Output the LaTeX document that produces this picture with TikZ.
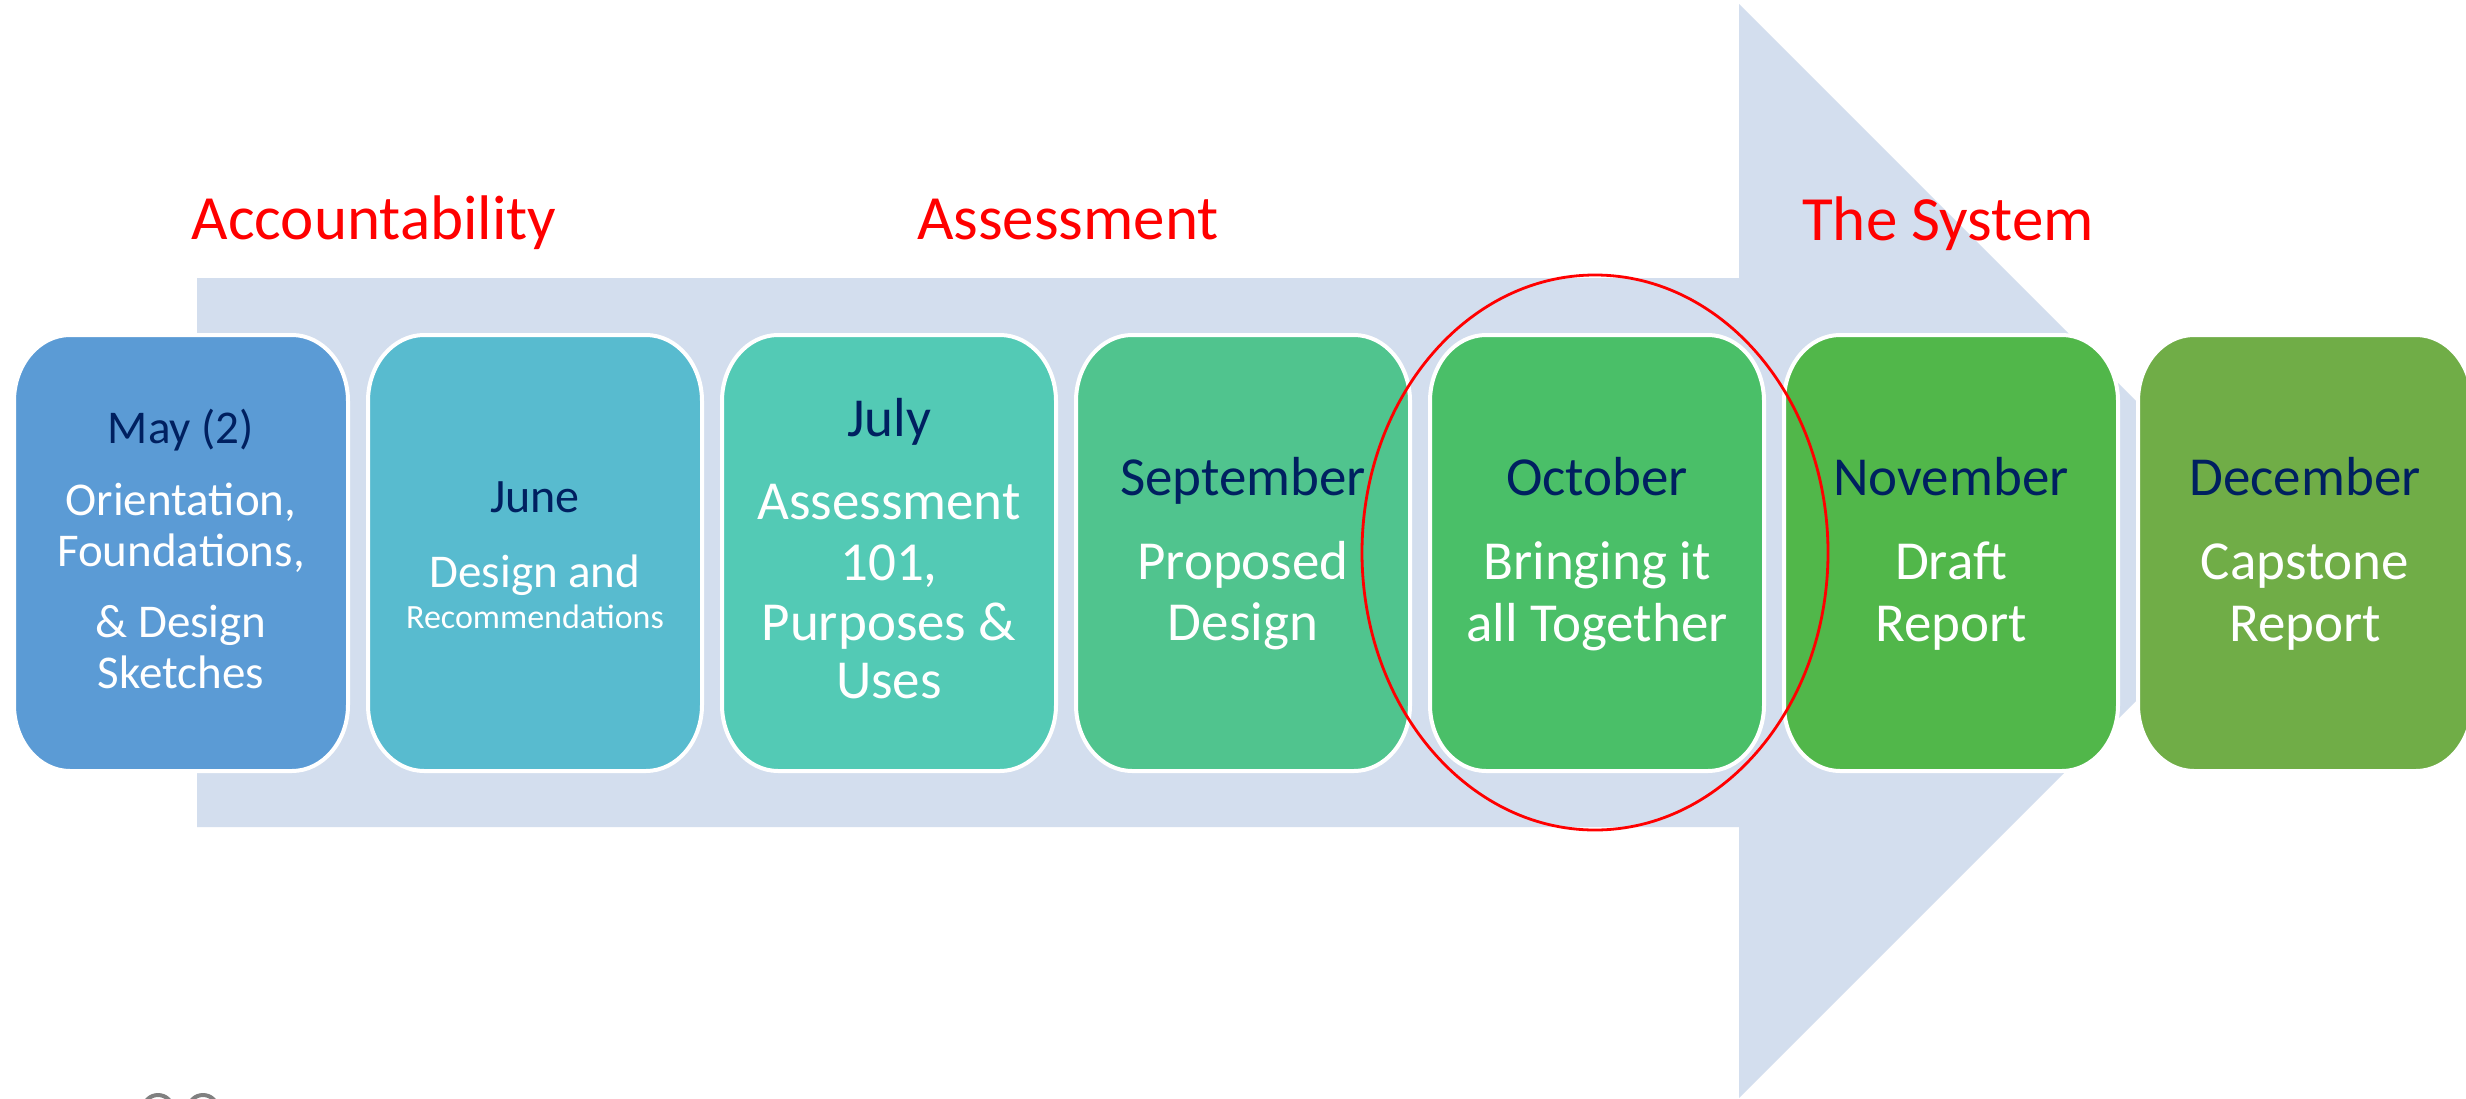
\documentclass[tikz,border=0pt]{standalone}
\usepackage{fontspec}
\setmainfont{Carlito}
\definecolor{arrowblue}{RGB}{211,222,238}
\definecolor{navytext}{RGB}{0,32,96}
\definecolor{cMay}{RGB}{91,155,213}
\definecolor{cJun}{RGB}{88,187,207}
\definecolor{cJul}{RGB}{83,202,181}
\definecolor{cSep}{RGB}{80,196,142}
\definecolor{cOct}{RGB}{74,191,104}
\definecolor{cNov}{RGB}{81,183,74}
\definecolor{cDec}{RGB}{112,173,71}
\newcommand\szSmall{\fontsize{34}{41}\selectfont}
\newcommand\szMid{\fontsize{47}{56}\selectfont}
\newcommand\szJune{\fontsize{48}{58}\selectfont}
\newcommand\szBig{\fontsize{55}{66}\selectfont}
\newcommand\szPhase{\fontsize{63}{76}\selectfont}
% rounded block with slightly taller-than-wide corners: {centre x}{fill colour}
\newcommand\stageshape[2]{%
  \filldraw[fill=#2, draw=white, line width=4pt]
    ({#1-167+56},335) -- ({#1+167-56},335)
    arc[start angle=-90, end angle=0, x radius=56, y radius=66]
    -- ({#1+167},{771-66})
    arc[start angle=0, end angle=90, x radius=56, y radius=66]
    -- ({#1-167+56},771)
    arc[start angle=90, end angle=180, x radius=56, y radius=66]
    -- ({#1-167},{335+66})
    arc[start angle=180, end angle=270, x radius=56, y radius=66]
    -- cycle;}
\tikzset{
  stagebox/.style={minimum width=334pt, minimum height=436pt, inner sep=0pt},
  monthtxt/.style={anchor=base, inner sep=0pt, text=navytext},
  bodytxt/.style={anchor=base, inner sep=0pt, text=white},
  phasetxt/.style={anchor=base, inner sep=0pt, text=red, font=\szPhase},
}
\begin{document}
\begin{tikzpicture}[x=1pt, y=-1pt]
\clip (0,0) rectangle (2466,1098);
\fill[white] (0,0) rectangle (2466,1098);

% background block arrow
\fill[arrowblue] (197,278) -- (1739,278) -- (1739,4) -- (2286,551)
  -- (1739,1098) -- (1739,827) -- (197,827) -- cycle;

% phase headings
\node[phasetxt] (ph1) at (374,239) {Accountability};
\node[phasetxt] (ph2) at (1068,239) {Assessment};
\node[phasetxt] (ph3) at (1948,240) {The System};

% stage blocks
\stageshape{181}{cMay}
\stageshape{535}{cJun}
\stageshape{889}{cJul}
\stageshape{1243}{cSep}
\stageshape{1597}{cOct}
\stageshape{1951}{cNov}
\stageshape{2305}{cDec}
\node[stagebox] (b1) at (181,553) {};
\node[stagebox] (b2) at (535,553) {};
\node[stagebox] (b3) at (889,553) {};
\node[stagebox] (b4) at (1243,553) {};
\node[stagebox] (b5) at (1597,553) {};
\node[stagebox] (b6) at (1951,553) {};
\node[stagebox] (b7) at (2305,553) {};

% May
\node[monthtxt, font=\szMid] (m1) at (181,443) {May (2)};
\node[bodytxt, font=\szMid] (t1a) at (181,515) {Orientation,};
\node[bodytxt, font=\szMid] (t1b) at (181,566) {Foundations,};
\node[bodytxt, font=\szMid] (t1c) at (181,637) {\& Design};
\node[bodytxt, font=\szMid] (t1d) at (181,688) {Sketches};

% June
\node[monthtxt, font=\szJune] (m2) at (535,512) {June};
\node[bodytxt, font=\szMid] (t2a) at (535,587) {Design and};
\node[bodytxt, font=\szSmall] (t2b) at (535,628) {Recommendations};

% July
\node[monthtxt, font=\szBig] (m3) at (889,436) {July};
\node[bodytxt, font=\szBig] (t3a) at (889,519) {Assessment};
\node[bodytxt, font=\szBig] (t3b) at (889,580) {101,};
\node[bodytxt, font=\szBig] (t3c) at (889,640) {Purposes \&};
\node[bodytxt, font=\szBig] (t3d) at (889,698) {Uses};

% September
\node[monthtxt, font=\szBig] (m4) at (1243,495) {September};
\node[bodytxt, font=\szBig] (t4a) at (1243,579) {Proposed};
\node[bodytxt, font=\szBig] (t4b) at (1243,640) {Design};

% October
\node[monthtxt, font=\szBig] (m5) at (1597,495) {October};
\node[bodytxt, font=\szBig] (t5a) at (1597,579) {Bringing it};
\node[bodytxt, font=\szBig] (t5b) at (1597,641) {all Together};

% November
\node[monthtxt, font=\szBig] (m6) at (1951,495) {November};
\node[bodytxt, font=\szBig] (t6a) at (1951,579) {Draft};
\node[bodytxt, font=\szBig] (t6b) at (1951,641) {Report};

% December
\node[monthtxt, font=\szBig] (m7) at (2305,495) {December};
\node[bodytxt, font=\szBig] (t7a) at (2305,579) {Capstone};
\node[bodytxt, font=\szBig] (t7b) at (2305,641) {Report};

% highlight ring around October
\draw[red, line width=2.8pt] (1595,552.5) ellipse [x radius=233, y radius=277.5];

% icon rims at the lower edge
\draw[gray, line width=4pt] (158,1110) circle [radius=15];
\draw[gray, line width=4pt] (203,1110) circle [radius=15];
\end{tikzpicture}
\end{document}
